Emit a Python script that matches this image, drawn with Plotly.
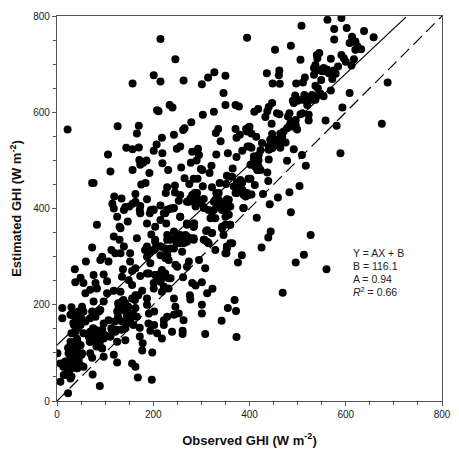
import plotly.graph_objects as go

observed = [215,246,201,215,157,263,301,314,327,350,346,350,371,378,234,240,208,211,303,326,22,126,170,166,279,265,262,243,218,335,330,371,373,380,393,399,340,207,201,144,157,170,256,249,293,281,295,290,219,219,106,331,355,385,373,396,171,186,173,179,278,321,258,231,299,302,157,111,192,265,317,365,
353,357,402,284,292,398,275,338,351,385,374,245,229,303,322,226,245,256,119,163,134,115,187,163,157,142,173,215,200,230,240,253,270,286,291,277,305,288,331,326,336,353,371,388,398,381,360,387,305,346,333,76,73,175,184,
395,508,562,591,576,602,638,658,613,576,486,453,608,620,624,620,632,506,545,540,541,537,534,554,561,569,591,596,600,617,612,584,575,579,572,436,462,461,448,463,515,497,511,549,534,537,542,569,687,608,495,490,500,514,515,521,530,538,547,554,520,447,440,418,410,437,433,457,462,483,480,510,523,506,593,523,496,485,496,499,478,471,558,446,675,581,400,395,404,414,447,443,457,468,475,461,450,440,464,400,404,426,423,492,509,478,517,589,412,409,419,440,416,412,423,437,402,439,411,504,483,459,442,428,404,395,392,
486,415,444,439,527,425,513,496,560,469,
83,73,60,37,94,90,107,118,130,113,139,121,132,152,152,118,125,130,132,147,139,150,172,173,193,195,187,204,166,222,229,243,215,227,256,270,285,284,305,322,315,346,350,388,343,360,346,310,322,306,315,329,364,353,352,384,376,196,204,187,183,201,215,229,243,250,229,256,270,284,270,256,243,229,232,215,194,187,194,274,270,250,246,295,308,262,281,288,301,312,323,276,277,163,156,137,135,149,156,173,187,191,204,218,208,225,236,215,222,232,218,201,243,76,97,104,49,55,38,80,83,69,59,104,97,76,118,132,135,128,142,125,146,163,177,156,187,163,187,191,246,243,229,222,263,253,222,202,301,301,308,342,355,372,369,373,261,261,239,218,208,194,202,190,172,172,178,177,198,142,197,168,156,163,125,118,97,89,74,23,7,11,11,1,
30,28,38,52,55,45,42,35,49,59,73,87,90,69,80,97,107,125,135,146,152,166,114,121,142,159,55,69,80,94,66,76,90,69,83,97,111,125,94,69,73,38,28,42,49,31,42,24,52,35,45,55,31,17,7,21,14,28,42,
30,41,51,34,44,30,41,34,48,23,37,27,41,51,20,34,48,13,27,41,16,30,68,79,89,99,68,79,89,82,75,127,138,148,134,145,158,127,120,138,148,162,169,113,110,124,134,93,
281,291,284,274,298,288,336,329,340,350,357,353,343,326,357,367,378,385,374,364,381,236,246,256,267,277,284,263,249,236,225,225,215,204,204,229,260,215,204,218,201,232,350,360,343,312,322,305,312,360,353,350,270,284,284,256,225,236,201,329,319,
444,454,447,412,419,416,409,419,537,530,527,516,509,496,492,482,489,492,464,468,440,544,551,558,565]
estimated = [752,710,677,664,660,666,658,672,683,676,640,615,615,612,615,610,604,602,595,601,564,571,572,556,579,567,563,553,547,565,557,565,547,553,565,569,540,533,520,526,523,527,529,524,524,518,511,500,515,494,512,512,515,520,507,529,501,500,491,495,495,489,485,480,482,480,480,477,474,463,474,483,
468,466,491,462,462,462,451,453,451,454,454,448,444,446,444,432,433,428,425,430,421,410,419,414,410,403,405,406,398,398,400,416,414,432,421,421,420,411,432,414,418,419,432,428,428,442,404,401,403,407,403,453,453,450,453,
755,780,792,796,773,775,769,756,757,751,738,730,744,747,737,730,731,709,723,719,712,698,692,692,689,711,719,712,705,710,697,695,687,680,669,681,687,677,660,659,672,660,662,667,678,655,650,645,662,640,635,624,624,636,626,622,626,633,639,633,615,619,611,607,601,602,590,598,596,598,591,598,595,596,610,583,584,577,574,564,567,560,583,576,576,572,570,560,556,549,555,543,543,549,537,536,529,529,526,529,526,536,521,523,511,499,489,515,508,501,501,502,494,487,480,475,462,457,449,447,434,423,409,430,429,432,425,
392,381,352,340,345,319,304,288,274,225,
366,319,290,274,300,293,290,342,335,314,321,307,307,307,290,400,383,362,359,373,397,404,397,390,390,397,369,362,338,390,397,401,376,369,383,366,369,362,401,383,397,397,383,401,362,366,345,353,349,335,328,314,328,321,307,303,288,346,335,321,314,314,321,345,352,338,335,345,342,338,331,328,317,303,293,303,310,300,286,290,279,279,283,293,276,257,245,240,247,224,233,220,211,276,270,274,258,251,241,260,265,265,262,272,258,265,255,248,238,234,227,234,213,262,263,249,256,245,247,245,234,231,224,224,207,207,229,227,207,196,203,186,193,220,229,213,213,193,200,182,196,179,175,168,168,182,158,186,200,182,139,167,193,187,210,133,146,139,144,130,141,146,158,161,152,134,120,105,101,126,44,49,78,71,80,96,92,31,55,16,40,193,172,99,
195,179,175,196,186,186,165,158,158,165,186,186,189,172,175,161,168,168,165,161,168,175,148,144,151,158,141,144,148,148,134,134,134,123,123,130,134,123,109,99,90,144,123,127,116,109,103,99,99,89,85,71,75,82,78,68,54,47,68,
179,182,172,162,151,141,130,120,116,110,106,96,92,96,82,78,75,71,65,68,54,51,137,144,141,137,123,127,123,113,151,203,210,196,189,179,182,175,165,165,165,210,220,151,134,148,148,110,
428,432,414,414,411,404,432,418,407,414,418,400,397,397,387,446,452,439,432,466,459,335,345,338,345,338,335,328,328,317,317,297,321,331,317,303,310,265,262,255,245,255,366,366,359,355,349,335,331,328,317,307,369,369,362,383,390,400,397,380,380,
536,539,525,494,487,480,508,511,626,636,629,633,626,629,619,570,581,570,556,543,522,688,685,685,681]

line_x = [0, 725]
fit_slope = 0.94
fit_intercept = 116.1
identity_x = [0, 800]
ticks = [0, 200, 400, 600, 800]
stats_lines = ["Y = AX + B", "B = 116.1", "A = 0.94", "<i>R</i><sup>2</sup> = 0.66"]
stats_y = [307, 281, 254, 227]

FONT = "Liberation Sans, Arial, sans-serif"
GREY = "#555555"

fig = go.Figure()
fig.add_trace(go.Scatter(x=observed, y=estimated, mode="markers",
                         marker=dict(color="black", size=8, line=dict(width=0))))
fig.add_trace(go.Scatter(x=line_x, y=[fit_slope * v + fit_intercept for v in line_x], mode="lines",
                         line=dict(color="black", width=1.2)))
fig.add_trace(go.Scatter(x=identity_x, y=identity_x, mode="lines",
                         line=dict(color="black", width=1.2, dash="12px,6px")))

axis = dict(range=[0, 800], tickvals=ticks, ticks="outside", ticklen=4, tickwidth=1, tickcolor=GREY,
            minor=dict(dtick=50, ticks="outside", ticklen=3, tickwidth=1, tickcolor=GREY),
            showgrid=False, zeroline=False, showline=True, mirror=True, linecolor=GREY, linewidth=1.2,
            automargin=True, tickfont=dict(family=FONT, size=10, color="#222222"))
fig.update_layout(
    width=459, height=453, margin=dict(l=57, r=17, t=16, b=52, autoexpand=False),
    paper_bgcolor="white", plot_bgcolor="white", showlegend=False,
    xaxis=dict(axis, title=dict(text="<b>Observed GHI (W m<sup>-2</sup>)</b>", standoff=16,
                                font=dict(family=FONT, size=13, color="#111111"))),
    yaxis=dict(axis, title=dict(text="<b>Estimated GHI (W m<sup>-2</sup>)</b>", standoff=8,
                                font=dict(family=FONT, size=13, color="#111111"))),
)
for text, y in zip(stats_lines, stats_y):
    fig.add_annotation(x=610, y=y, xref="x", yref="y", xanchor="left", yanchor="middle", showarrow=False,
                       text=text, font=dict(family=FONT, size=10.5, color="#222222"))
fig.write_html("out.html", post_script="document.body.style.margin='0';",
               config=dict(displayModeBar=False))
